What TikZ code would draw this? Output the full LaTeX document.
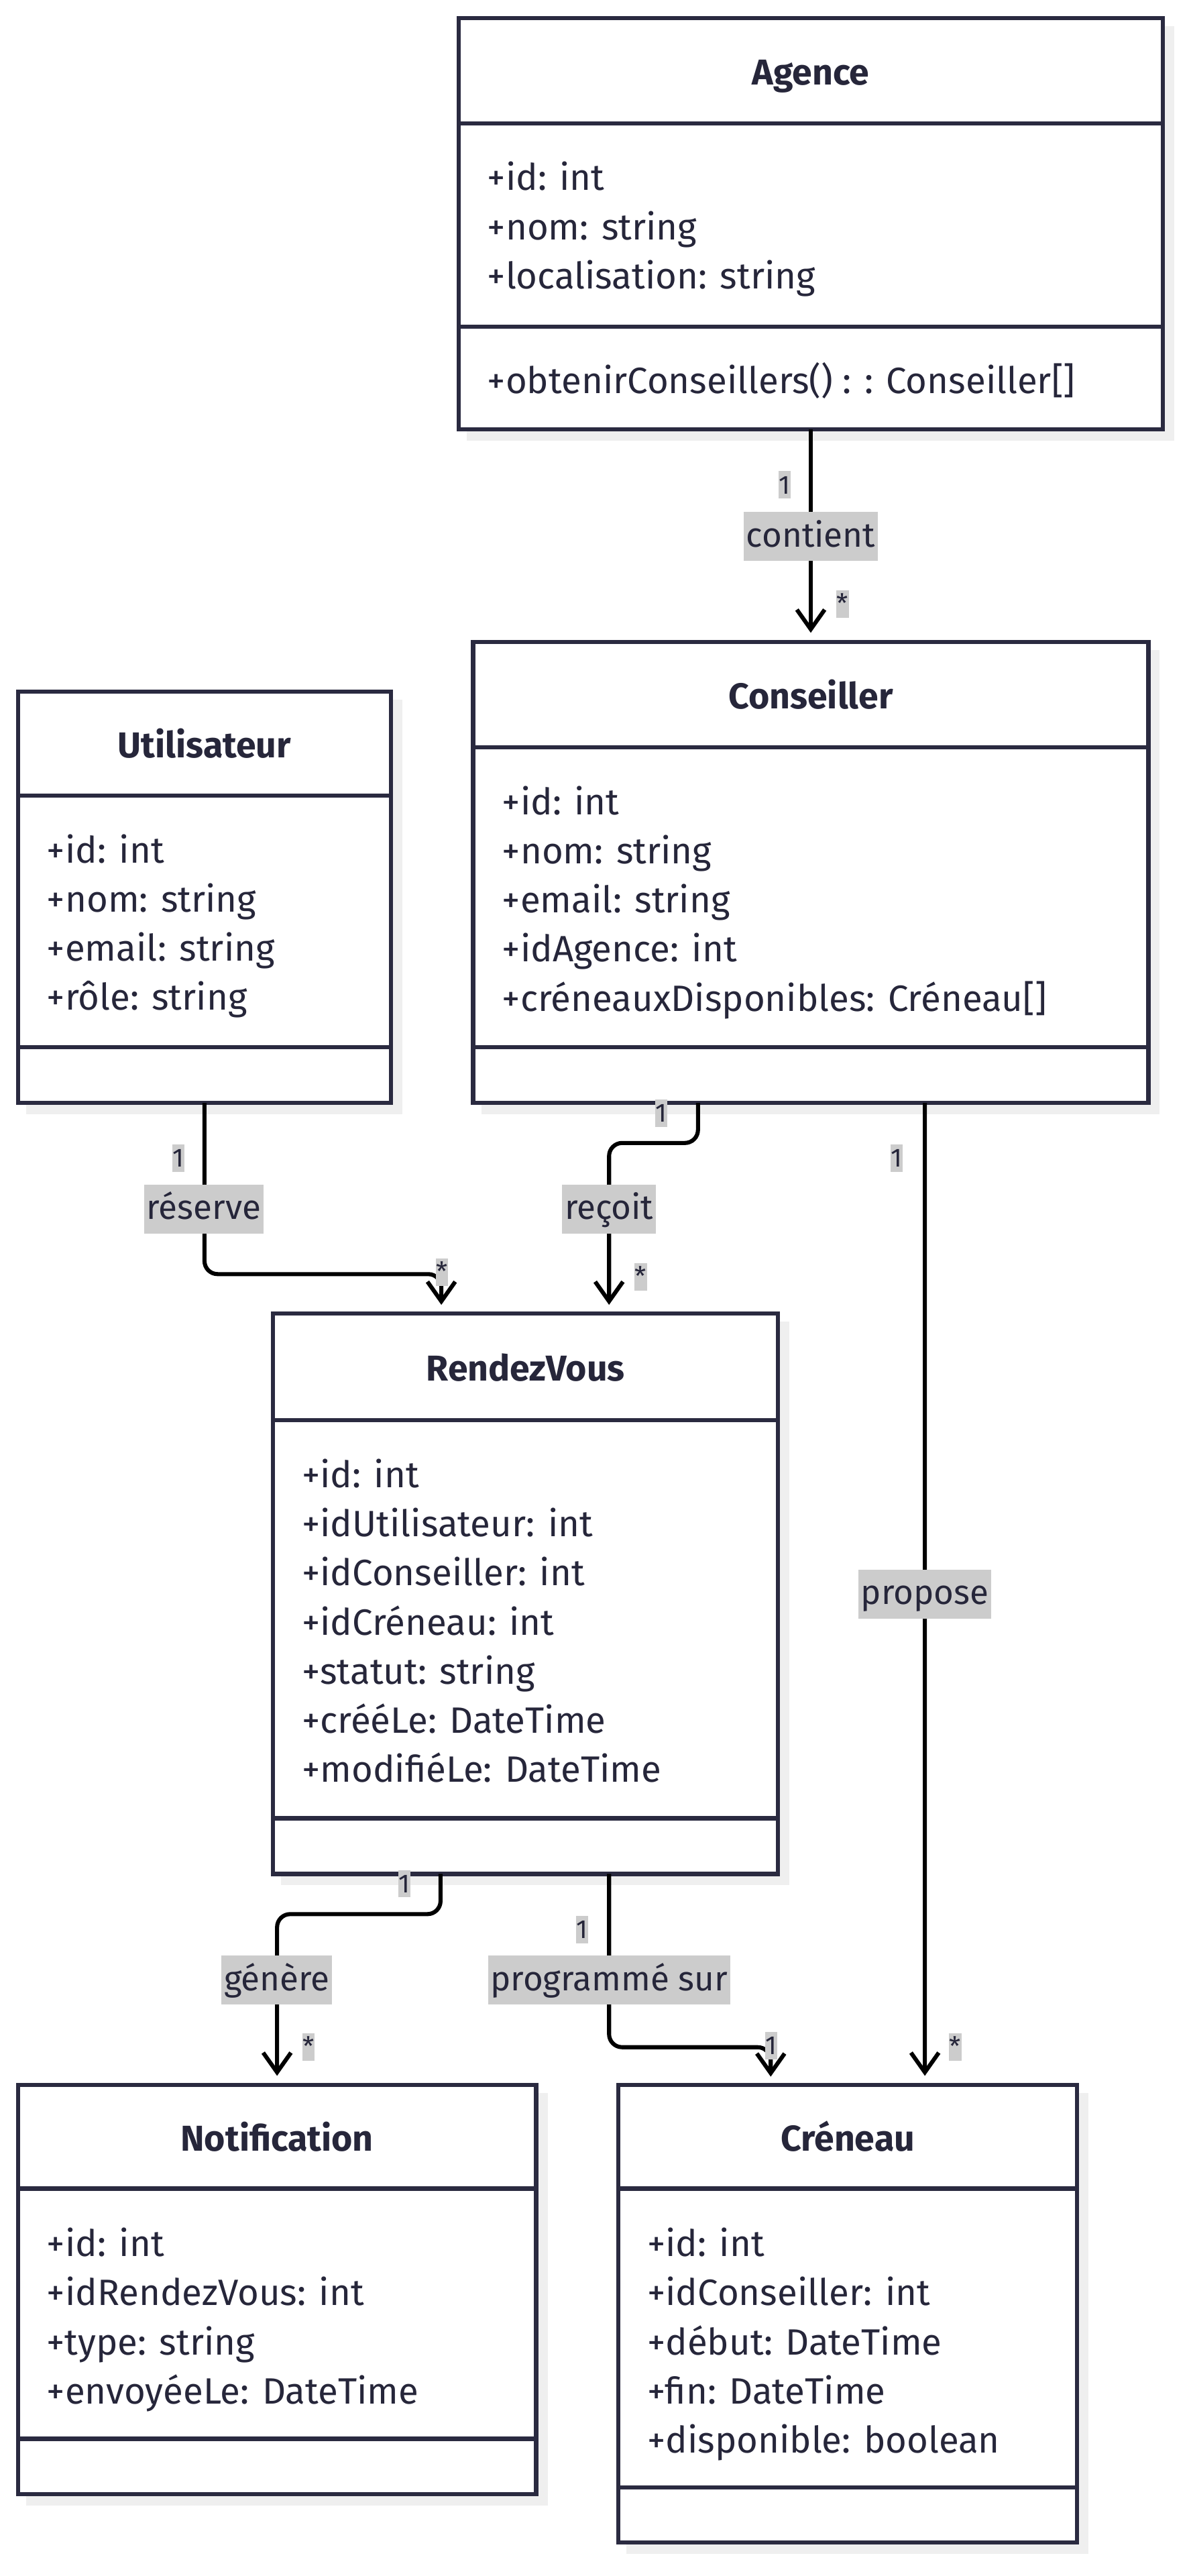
\documentclass[tikz,border=0pt]{standalone}
\usepackage{fontspec}
\setmainfont{Fira Sans}
\usetikzlibrary{arrows.meta,calc}
\definecolor{boxline}{HTML}{2A2A40}
\definecolor{txt}{HTML}{26263A}
\definecolor{lblbg}{HTML}{CCCCCC}
\definecolor{shadowc}{HTML}{EFEFEF}
\pgfdeclarelayer{bg}
\pgfsetlayers{bg,main}
\tikzset{
  classbox/.style={rectangle, draw=boxline, line width=2.6pt, fill=white, inner sep=0pt, outer sep=0pt},
  divline/.style={draw=boxline, line width=2.6pt},
  shadowbox/.style={fill=shadowc},
  ctitle/.style={font=\fontsize{22}{22}\selectfont\bfseries, text=txt, anchor=base, inner sep=0pt},
  cattr/.style={font=\fontsize{22.4}{22.4}\selectfont, text=txt, anchor=base west, inner sep=0pt},
  assoc/.style={draw=black, line width=2.5pt, rounded corners=8pt, -{Straight Barb[length=12pt,width=17pt]}},
  elabel/.style={fill=lblbg, text=txt, font=\fontsize{21}{21}\selectfont, inner xsep=1.5pt, inner ysep=0pt, text height=21.3pt, text depth=8.7pt},
  mlabel/.style={fill=lblbg, text=txt, font=\fontsize{16}{16}\selectfont, inner xsep=0.3pt, inner ysep=0pt, text height=13.8pt, text depth=3pt},
}
\begin{document}
\begin{tikzpicture}[x=1pt,y=-1pt]
\begin{pgfonlayer}{bg}
  \fill[white] (0,0) rectangle (727,1575.4);
\end{pgfonlayer}
\useasboundingbox (0,0) rectangle (727,1575.4);

% ---------- class boxes ----------
\node[classbox, minimum width=431pt, minimum height=251.6pt] (agence) at (496,136.8) {};
\node[classbox, minimum width=413pt, minimum height=281.9pt] (cons) at (496,533.55) {};
\node[classbox, minimum width=228.2pt, minimum height=251.5pt] (util) at (125.1,548.75) {};
\node[classbox, minimum width=309pt, minimum height=342.6pt] (rdv) at (321.5,974.7) {};
\node[classbox, minimum width=317pt, minimum height=250.3pt] (notif) at (169.5,1400.15) {};
\node[classbox, minimum width=280.7pt, minimum height=280pt] (cren) at (518.65,1415) {};

% shadows
\begin{pgfonlayer}{bg}
  \foreach \b in {agence,cons,util,rdv,notif,cren}{
    \fill[shadowbox] ([xshift=5pt,yshift=-5pt]\b.north west) rectangle ([xshift=7pt,yshift=-7pt]\b.south east);
  }
\end{pgfonlayer}

% dividers
\draw[divline] (agence.west |- 0,75.5) -- (agence.east |- 0,75.5);
\draw[divline] (agence.west |- 0,199.8) -- (agence.east |- 0,199.8);
\draw[divline] (cons.west |- 0,457) -- (cons.east |- 0,457);
\draw[divline] (cons.west |- 0,640.5) -- (cons.east |- 0,640.5);
\draw[divline] (util.west |- 0,486.6) -- (util.east |- 0,486.6);
\draw[divline] (util.west |- 0,640.5) -- (util.east |- 0,640.5);
\draw[divline] (rdv.west |- 0,868.6) -- (rdv.east |- 0,868.6);
\draw[divline] (rdv.west |- 0,1112) -- (rdv.east |- 0,1112);
\draw[divline] (notif.west |- 0,1338.5) -- (notif.east |- 0,1338.5);
\draw[divline] (notif.west |- 0,1491.5) -- (notif.east |- 0,1491.5);
\draw[divline] (cren.west |- 0,1338.5) -- (cren.east |- 0,1338.5);
\draw[divline] (cren.west |- 0,1521.2) -- (cren.east |- 0,1521.2);

% titles
\node[ctitle] (agence-t) at (496,52) {Agence};
\node[ctitle] (cons-t) at (496,433.3) {Conseiller};
\node[ctitle] (util-t) at (125.1,463.3) {Utilisateur};
\node[ctitle] (rdv-t) at (321.5,844.5) {RendezVous};
\node[ctitle] (notif-t) at (169.5,1315.3) {Notification};
\node[ctitle] (cren-t) at (518.65,1315.3) {Créneau};

% attributes
\foreach \t [count=\i] in {{+id: int},{+nom: string},{+localisation: string}}
  \node[cattr] (agence-a\i) at (298,{116.5+30*(\i-1)}) {\t};
\node[cattr] (agence-m1) at (298,240.8) {+obtenirConseillers() : : Conseiller[]};
\foreach \t [count=\i] in {{+id: int},{+nom: string},{+email: string},{+idAgence: int},{+créneauxDisponibles: Créneau[]}}
  \node[cattr] (cons-a\i) at (307,{498.3+30*(\i-1)}) {\t};
\foreach \t [count=\i] in {{+id: int},{+nom: string},{+email: string},{+rôle: string}}
  \node[cattr] (util-a\i) at (28.5,{527.7+30*(\i-1)}) {\t};
\foreach \t [count=\i] in {{+id: int},{+idUtilisateur: int},{+idConseiller: int},{+idCréneau: int},{+statut: string},{+crééLe: DateTime},{+modifiéLe: DateTime}}
  \node[cattr] (rdv-a\i) at (184.5,{909.8+30*(\i-1)}) {\t};
\foreach \t [count=\i] in {{+id: int},{+idRendezVous: int},{+type: string},{+envoyéeLe: DateTime}}
  \node[cattr] (notif-a\i) at (28.5,{1380+30*(\i-1)}) {\t};
\foreach \t [count=\i] in {{+id: int},{+idConseiller: int},{+début: DateTime},{+fin: DateTime},{+disponible: boolean}}
  \node[cattr] (cren-a\i) at (395.8,{1380+30*(\i-1)}) {\t};

% ---------- associations ----------
\draw[assoc] (agence.south) -- ([yshift=5.6pt]cons.north);
\draw[assoc] (util.south) -- ++(0,104.7) -| ([xshift=-51.5pt,yshift=5.4pt]rdv.north);
\draw[assoc] ([xshift=-69pt]cons.south) -- ++(0,24.5) -| ([xshift=51.1pt,yshift=5.4pt]rdv.north);
\draw[assoc] ([xshift=69.8pt]cons.south) -- ([xshift=47.15pt,yshift=5.5pt]cren.north);
\draw[assoc] ([xshift=-52pt]rdv.south) -- ++(0,24.6) -| ([yshift=5.5pt]notif.north);
\draw[assoc] ([xshift=51.1pt]rdv.south) -- ++(0,106) -| ([xshift=-47.15pt,yshift=5pt]cren.north);

% ---------- labels ----------
\node[elabel] (l-contient) at (496,328.1) {contient};
\node[mlabel] (m-contient-1) at (480,296.6) {1};
\node[mlabel] (m-contient-2) at (515.4,369.4) {*};

\node[elabel] (l-reserve) at (124.7,739.4) {réserve};
\node[mlabel] (m-reserve-1) at (109.1,708.3) {1};
\node[mlabel] (m-reserve-2) at (270.4,778) {*};

\node[elabel] (l-recoit) at (372.6,739.4) {reçoit};
\node[mlabel] (m-recoit-1) at (404.6,680.7) {1};
\node[mlabel] (m-recoit-2) at (391.9,780.9) {*};

\node[elabel] (l-propose) at (565.8,975) {propose};
\node[mlabel] (m-propose-1) at (548.6,708.3) {1};
\node[mlabel] (m-propose-2) at (584.4,1251.9) {*};

\node[elabel] (l-genere) at (169.4,1211) {génère};
\node[mlabel] (m-genere-1) at (247.4,1152) {1};
\node[mlabel] (m-genere-2) at (188.7,1251.9) {*};

\node[elabel] (l-prog) at (372.6,1211) {programmé sur};
\node[mlabel] (m-prog-1) at (356.2,1180.2) {1};
\node[mlabel] (m-prog-2) at (471.9,1251.1) {1};
\end{tikzpicture}
\end{document}
